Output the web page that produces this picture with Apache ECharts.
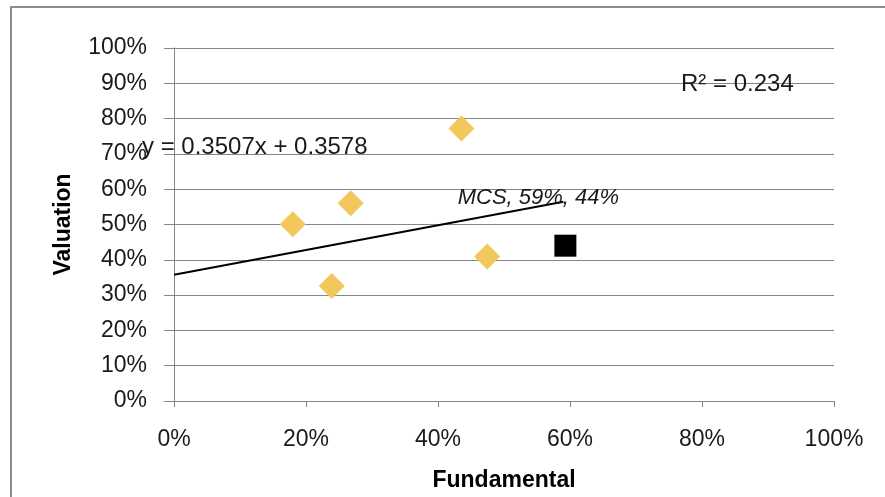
<!DOCTYPE html>
<html><head><meta charset="utf-8">
<script src="https://cdn.jsdelivr.net/npm/echarts@6/dist/echarts.min.js"></script>
<style>html,body{margin:0;padding:0;background:#fff}#c{width:885px;height:497px}</style>
</head><body><div id="c"></div>
<script>
// Data
const peerFundamental = [0.18, 0.2676, 0.239, 0.4355, 0.4745];
const peerValuation   = [0.501, 0.560, 0.326, 0.772, 0.409];
const mcsFundamental  = [0.593];
const mcsValuation    = [0.440];
const mcsLabel = 'MCS, 59%, 44%';
const trendSlope = 0.3507;
const trendIntercept = 0.3578;
const trendXRange = [0, 0.59];
const equationText = 'y = 0.3507x + 0.3578';
const r2Text = 'R² = 0.234';
const xTicks = [0, 0.2, 0.4, 0.6, 0.8, 1.0];
const yTicks = [0, 0.1, 0.2, 0.3, 0.4, 0.5, 0.6, 0.7, 0.8, 0.9, 1.0];

const FONT = '"Liberation Sans", Arial, sans-serif';
const peers = peerFundamental.map((x, i) => [x, peerValuation[i]]);
const mcs = mcsFundamental.map((x, i) => [x, mcsValuation[i]]);
const trend = trendXRange.map(x => [x, trendIntercept + trendSlope * x]);
const pct = v => Math.round(v * 100) + '%';

const chart = echarts.init(document.getElementById('c'), null, {renderer: 'canvas'});
chart.setOption({
  animation: false,
  backgroundColor: '#ffffff',
  grid: {left: 174, right: 51, top: 48, bottom: 89},
  xAxis: {
    type: 'value', min: xTicks[0], max: xTicks[xTicks.length - 1], interval: 0.2,
    name: 'Fundamental', nameLocation: 'middle', nameGap: 68,
    nameTextStyle: {fontFamily: FONT, fontWeight: 'bold', fontSize: 23, color: '#000'},
    axisLine: {lineStyle: {color: '#868686', width: 1}},
    axisTick: {show: true, length: 6, lineStyle: {color: '#868686'}},
    axisLabel: {formatter: pct, fontFamily: FONT, fontSize: 23, color: '#1a1a1a', margin: 27},
    splitLine: {show: false}
  },
  yAxis: {
    type: 'value', min: yTicks[0], max: yTicks[yTicks.length - 1], interval: 0.1,
    name: 'Valuation', nameLocation: 'middle', nameGap: 99,
    nameTextStyle: {fontFamily: FONT, fontWeight: 'bold', fontSize: 23, color: '#000'},
    axisLine: {show: true, lineStyle: {color: '#868686', width: 1}},
    axisTick: {show: true, length: 10, lineStyle: {color: '#868686'}},
    axisLabel: {formatter: pct, fontFamily: FONT, fontSize: 23, color: '#1a1a1a', margin: 27},
    splitLine: {show: true, lineStyle: {color: '#868686', width: 1}}
  },
  graphic: [
    {type: 'rect', shape: {x: 11, y: 7, width: 900, height: 600}, style: {fill: 'none', stroke: '#8c8c8c', lineWidth: 2}, silent: true, z: -1},
    {type: 'text', left: 142, top: 135, style: {text: equationText, font: '24px ' + FONT, fill: '#1a1a1a'}, z: 10},
    {type: 'text', left: 681, top: 72, style: {text: r2Text, font: '24px ' + FONT, fill: '#1a1a1a'}, z: 10}
  ],
  series: [
    {type: 'line', data: trend, symbol: 'none', lineStyle: {color: '#000', width: 2}, z: 3, silent: true},
    {type: 'scatter', data: peers, symbol: 'diamond', symbolSize: 26, itemStyle: {color: '#F2C75C', opacity: 1}, z: 4},
    {type: 'scatter', data: mcs, symbol: 'rect', symbolSize: 22, itemStyle: {color: '#000', opacity: 1}, z: 4,
      label: {show: true, formatter: mcsLabel, position: 'top', offset: [-27, -21], fontFamily: FONT, fontStyle: 'italic', fontSize: 22, color: '#1a1a1a'}}
  ]
});
</script></body></html>
